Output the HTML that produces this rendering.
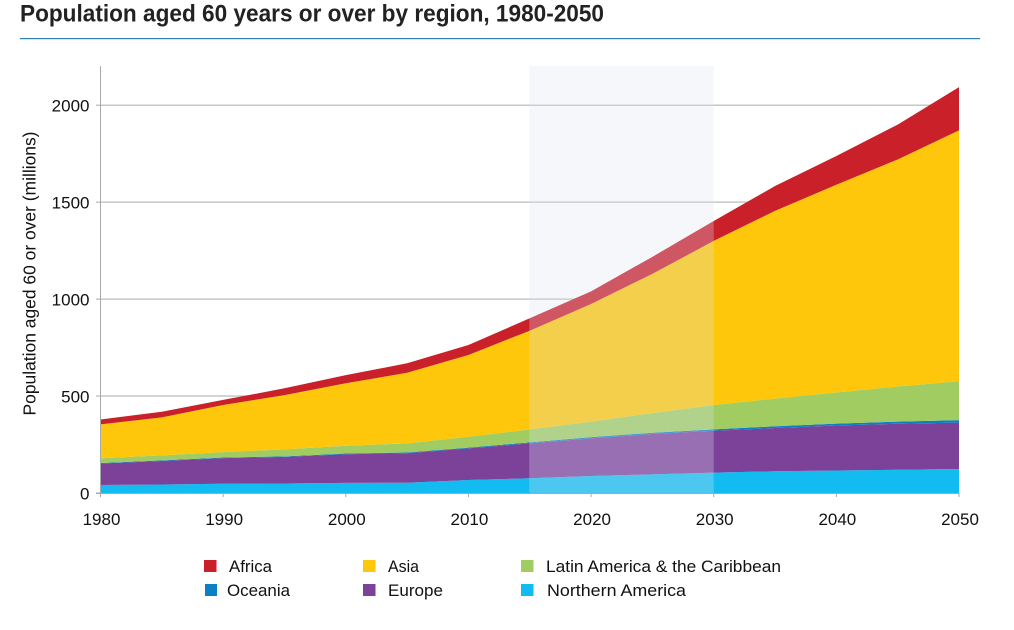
<!DOCTYPE html>
<html>
<head>
<meta charset="utf-8">
<title>Population aged 60 years or over by region</title>
<style>
html,body{margin:0;padding:0;background:#fff;width:1014px;height:630px;overflow:hidden}
svg{display:block}
text{font-family:"Liberation Sans",sans-serif;fill:#111}
</style>
</head>
<body>
<svg id="chart" width="1014" height="630" viewBox="0 0 1014 630" xmlns="http://www.w3.org/2000/svg">
  <text x="20" y="21.5" font-size="24.5" font-weight="bold" textLength="584" lengthAdjust="spacingAndGlyphs" style="fill:#222">Population aged 60 years or over by region, 1980-2050</text>
  <rect x="20" y="38" width="960" height="1.2" fill="#2c7fb0"/>
  <g id="grid"></g>
  <g id="areas"></g>
  <g id="band"></g>
  <g id="axes"></g>
  <text transform="translate(35.5,415.5) rotate(-90)" font-size="17.5" textLength="284" lengthAdjust="spacingAndGlyphs">Population aged 60 or over (millions)</text>
  <g>
    <g><rect x="204" y="560" width="12.5" height="12" fill="#c9202a"/><text x="229" y="572" font-size="17" textLength="43" lengthAdjust="spacingAndGlyphs">Africa</text></g>
    <g><rect x="363" y="560" width="12.5" height="12" fill="#fec70b"/><text x="388" y="572" font-size="17" textLength="31" lengthAdjust="spacingAndGlyphs">Asia</text></g>
    <g><rect x="521" y="560" width="12.5" height="12" fill="#a0cc62"/><text x="546" y="572" font-size="17" textLength="235" lengthAdjust="spacingAndGlyphs">Latin America &amp; the Caribbean</text></g>
    <g><rect x="205" y="584" width="12" height="12" fill="#0d7fc4"/><text x="227" y="596" font-size="17" textLength="63" lengthAdjust="spacingAndGlyphs">Oceania</text></g>
    <g><rect x="363" y="584" width="12.5" height="12" fill="#7c4199"/><text x="388" y="596" font-size="17" textLength="55" lengthAdjust="spacingAndGlyphs">Europe</text></g>
    <g><rect x="521" y="584" width="12.5" height="12" fill="#12bcf0"/><text x="547" y="596" font-size="17" textLength="139" lengthAdjust="spacingAndGlyphs">Northern America</text></g>
  </g>
</svg>
<script>
var years = [1980,1985,1990,1995,2000,2005,2010,2015,2020,2025,2030,2035,2040,2045,2050];
var northernAmerica = [41,44,48,49,52,53,67,76,88,96,105,112,116,120,124];
var europe = [111,121,132,137,148,152,163,180,194,208,216,223,232,237,239];
var oceania = [3,3,3,3,4,4,4,5,6,7,7,9,10,11,13];
var latinAmerica = [24,26,28,36,40,47,56,67,80,101,126,143,160,181,200];
var asia = [175,196,243,280,322,364,422,509,607,718,846,968,1072,1171,1294];
var africa = [25,29,26,35,42,49,51,64,65,88,103,128,148,180,223];
var yTicks = [0,500,1000,1500,2000];
var xTicks = [1980,1990,2000,2010,2020,2030,2040,2050];
var bandYears = [2015,2030];

var NS = 'http://www.w3.org/2000/svg';
function xScale(y){ return 100.5 + (y - 1980) * (959 - 100.5) / 70; }
function yScale(v){ return 493 - v * (493 - 105.2) / 2000; }
function make(tag, attrs, parent){
  var el = document.createElementNS(NS, tag);
  for (var k in attrs) el.setAttribute(k, attrs[k]);
  parent.appendChild(el);
  return el;
}

var gridG = document.getElementById('grid');
var areasG = document.getElementById('areas');
var bandG = document.getElementById('band');
var axesG = document.getElementById('axes');

yTicks.forEach(function(v){
  if (v === 0) return;
  var line = make('line', {x1:100, x2:959, y1:yScale(v), y2:yScale(v), stroke:'#c6c6c6', 'stroke-width':1.5}, gridG);
  
  
});

var layers = [
  {name:'northern-america', values:northernAmerica, color:'#12bcf0'},
  {name:'europe', values:europe, color:'#7c4199'},
  {name:'oceania', values:oceania, color:'#0d7fc4'},
  {name:'latin-america', values:latinAmerica, color:'#a0cc62'},
  {name:'asia', values:asia, color:'#fec70b'},
  {name:'africa', values:africa, color:'#c9202a'}
];
var base = years.map(function(){ return 0; });
layers.forEach(function(layer){
  var top = base.map(function(b, i){ return b + layer.values[i]; });
  var pts = [];
  years.forEach(function(y, i){ pts.push(xScale(y).toFixed(2) + ',' + yScale(top[i]).toFixed(2)); });
  for (var i = years.length - 1; i >= 0; i--) pts.push(xScale(years[i]).toFixed(2) + ',' + yScale(base[i]).toFixed(2));
  var poly = make('polygon', {points:pts.join(' '), fill:layer.color}, areasG);
  
  
  base = top;
});

var bandRect = make('rect', {x:xScale(bandYears[0]) - 0.5, y:66, width:xScale(bandYears[1]) - xScale(bandYears[0]) + 0.5, height:yScale(0) - 66, fill:'rgb(220,227,240)', 'fill-opacity':0.287}, bandG);



var yAxis = make('line', {x1:100.5, x2:100.5, y1:66, y2:yScale(0) + 3.5, stroke:'#a8a8a8', 'stroke-width':1}, axesG);


var xAxis = make('line', {x1:96, x2:959, y1:yScale(0) + 0.5, y2:yScale(0) + 0.5, stroke:'#a8a8a8', 'stroke-width':1}, axesG);



yTicks.forEach(function(v){
  var tick = make('line', {x1:96, x2:100, y1:yScale(v), y2:yScale(v), stroke:'#a8a8a8', 'stroke-width':1}, axesG);
  
  
  var label = make('text', {x:89.5, y:yScale(v) + 6.5, 'text-anchor':'end', 'font-size':17}, axesG);
  
  
  label.textContent = v;
});
xTicks.forEach(function(y){
  var tick = make('line', {x1:xScale(y), x2:xScale(y), y1:yScale(0), y2:yScale(0) + 4, stroke:'#a8a8a8', 'stroke-width':1}, axesG);
  
  
  var label = make('text', {x:xScale(y) + 1, y:525, 'text-anchor':'middle', 'font-size':17}, axesG);
  
  
  label.textContent = y;
});
</script>
</body>
</html>
